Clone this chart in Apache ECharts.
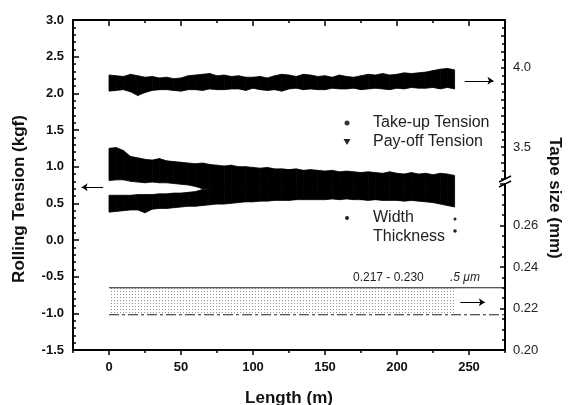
<!DOCTYPE html>
<html>
<head>
<meta charset="UTF-8">
<title>Rolling tension and tape size</title>
<script src="https://cdn.jsdelivr.net/npm/echarts@6/dist/echarts.min.js"></script>
<style>
  html, body { margin: 0; background: #fff; }
  #chart { width: 568px; height: 405px; }
</style>
</head>
<body>
<div id="chart"></div>
<script>
// length along the tape (m), one sample every 5 m
const lengthM = [0, 5, 10, 15, 20, 25, 30, 35, 40, 45, 50, 55, 60, 65, 70, 75, 80, 85, 90, 95,
  100, 105, 110, 115, 120, 125, 130, 135, 140, 145, 150, 155, 160, 165, 170, 175, 180, 185, 190, 195,
  200, 205, 210, 215, 220, 225, 230, 235, 240];

// take-up tension band (kgf), lower / upper edge
const takeUpLow = [2.03, 2.04, 2.05, 2.02, 1.97, 2.01, 2.04, 2.05, 2.05, 2.04,
  2.03, 2.05, 2.05, 2.04, 2.06, 2.05, 2.05, 2.06, 2.06, 2.04,
  2.07, 2.05, 2.04, 2.05, 2.03, 2.06, 2.07, 2.05, 2.06, 2.05,
  2.05, 2.07, 2.06, 2.06, 2.07, 2.05, 2.06, 2.07, 2.06, 2.05,
  2.07, 2.06, 2.08, 2.07, 2.07, 2.08, 2.06, 2.08, 2.06];
const takeUpHigh = [2.25, 2.24, 2.23, 2.26, 2.24, 2.22, 2.23, 2.21, 2.22, 2.20,
  2.21, 2.24, 2.25, 2.26, 2.27, 2.24, 2.25, 2.23, 2.24, 2.22,
  2.22, 2.23, 2.21, 2.24, 2.26, 2.25, 2.23, 2.26, 2.25, 2.23,
  2.24, 2.22, 2.25, 2.23, 2.22, 2.24, 2.26, 2.25, 2.27, 2.25,
  2.26, 2.28, 2.27, 2.28, 2.29, 2.31, 2.33, 2.34, 2.32];

// pay-off tension band (kgf): outer edges and the white gap seen near the start
const payOffLow = [0.38, 0.39, 0.40, 0.41, 0.41, 0.37, 0.42, 0.43, 0.43, 0.44,
  0.45, 0.46, 0.46, 0.47, 0.48, 0.49, 0.49, 0.50, 0.51, 0.52,
  0.52, 0.53, 0.53, 0.54, 0.54, 0.54, 0.55, 0.55, 0.55, 0.55,
  0.55, 0.56, 0.55, 0.56, 0.55, 0.55, 0.54, 0.55, 0.54, 0.54,
  0.54, 0.53, 0.54, 0.53, 0.52, 0.51, 0.49, 0.47, 0.45];
const payOffGapLow = [0.61, 0.61, 0.61, 0.61, 0.62, 0.62, 0.62, 0.63, 0.63, 0.64,
  0.64, 0.65, 0.66, 0.69, 0.70, 0.70, 0.70, 0.70, 0.70, 0.70,
  0.70, 0.70, 0.70, 0.70, 0.70, 0.70, 0.70, 0.70, 0.70, 0.70,
  0.70, 0.70, 0.70, 0.70, 0.70, 0.70, 0.70, 0.70, 0.70, 0.70,
  0.70, 0.70, 0.70, 0.70, 0.70, 0.70, 0.70, 0.70, 0.70];
const payOffGapHigh = [0.81, 0.82, 0.82, 0.80, 0.79, 0.78, 0.79, 0.78, 0.78, 0.77,
  0.76, 0.75, 0.73, 0.70, 0.70, 0.70, 0.70, 0.70, 0.70, 0.70,
  0.70, 0.70, 0.70, 0.70, 0.70, 0.70, 0.70, 0.70, 0.70, 0.70,
  0.70, 0.70, 0.70, 0.70, 0.70, 0.70, 0.70, 0.70, 0.70, 0.70,
  0.70, 0.70, 0.70, 0.70, 0.70, 0.70, 0.70, 0.70, 0.70];
const payOffHigh = [1.25, 1.26, 1.22, 1.14, 1.12, 1.10, 1.09, 1.11, 1.08, 1.07,
  1.06, 1.05, 1.04, 1.05, 1.03, 1.02, 1.01, 1.02, 1.00, 1.00,
  0.99, 0.98, 0.99, 0.97, 0.97, 0.96, 0.97, 0.95, 0.96, 0.95,
  0.94, 0.95, 0.93, 0.94, 0.93, 0.92, 0.93, 0.92, 0.91, 0.93,
  0.91, 0.90, 0.92, 0.90, 0.91, 0.89, 0.91, 0.90, 0.88];

// width / thickness band on the tape-size axis (mm)
const widthLength = [0, 240];
const widthLow = [0.217, 0.217];
const widthHigh = [0.230, 0.230];
const limitLength = [0, 275];

// arrows pointing to the axis each group belongs to
const arrowTension = [[-4, 0.72], [-19, 0.72]];
const arrowTakeUp  = [[247, 2.17], [267, 2.17]];
const arrowWidth   = [[244, -0.85], [261, -0.85]];

// tick labels
const xTicks = [0, 50, 100, 150, 200, 250];
const xMinorTicks = [-25, 25, 75, 125, 175, 225, 275];
const tensionTicks = [-1.5, -1.0, -0.5, 0.0, 0.5, 1.0, 1.5, 2.0, 2.5, 3.0];
const sizeUpperTicks = [3.5, 4.0];
const sizeLowerTicks = [0.20, 0.22, 0.24, 0.26];

const FONT = 'Liberation Sans, Arial, sans-serif';
const INK = '#111';

const chart = echarts.init(document.getElementById('chart'));

// stipple pattern for the width band
const dots = document.createElement('canvas');
dots.width = 3; dots.height = 3;
const dctx = dots.getContext('2d');
dctx.fillStyle = '#fff';
dctx.fillRect(0, 0, 3, 3);
dctx.fillStyle = '#909090';
dctx.fillRect(0, 0, 1, 1);

// band between a lower and an upper edge, one quad per segment
function bandSeries(xs, lows, highs, xi, yi, fill, stroke) {
  const data = [];
  for (let i = 0; i < xs.length - 1; i++) {
    data.push([xs[i], lows[i], highs[i], xs[i + 1], lows[i + 1], highs[i + 1]]);
  }
  return {
    type: 'custom', xAxisIndex: xi, yAxisIndex: yi, silent: true, clip: true,
    data: data,
    encode: { x: [0, 3], y: [1, 2, 4, 5] },
    renderItem: (params, api) => {
      const a = api.coord([api.value(0), api.value(1)]);
      const b = api.coord([api.value(3), api.value(4)]);
      const c = api.coord([api.value(3), api.value(5)]);
      const d = api.coord([api.value(0), api.value(2)]);
      return {
        type: 'polygon',
        shape: { points: [a, b, c, d] },
        style: stroke ? { fill: fill, stroke: stroke, lineWidth: 0.8 } : { fill: fill }
      };
    }
  };
}
function arrow(pts) {
  return [{ coord: pts[0] }, { coord: pts[1] }];
}

const series = [
  bandSeries(lengthM, takeUpLow, takeUpHigh, 0, 0, '#000', '#000'),
  bandSeries(lengthM, payOffLow, payOffGapLow, 0, 0, '#000', '#000'),
  bandSeries(lengthM, payOffGapHigh, payOffHigh, 0, 0, '#000', '#000'),
  bandSeries(widthLength, widthLow, widthHigh, 5, 2, { image: dots, repeat: 'repeat' }, null),
  {
    type: 'line', xAxisIndex: 5, yAxisIndex: 2, symbol: 'none', silent: true,
    data: limitLength.map(x => [x, widthHigh[0]]),
    lineStyle: { color: '#222', width: 1.2 }
  },
  {
    type: 'line', xAxisIndex: 5, yAxisIndex: 2, symbol: 'none', silent: true,
    data: limitLength.map(x => [x, widthLow[0]]),
    lineStyle: { color: '#222', width: 1.2, type: [10, 3, 3, 3] }
  },
  {
    type: 'line', xAxisIndex: 0, yAxisIndex: 0, symbol: 'none', silent: true, data: [],
    markLine: {
      silent: true, symbol: ['none', 'arrow'], symbolSize: 6,
      label: { show: false },
      lineStyle: { color: '#000', width: 1, type: 'solid' },
      data: [arrow(arrowTension), arrow(arrowTakeUp), arrow(arrowWidth)]
    }
  }
];

const axisLine = { show: true, onZero: false, lineStyle: { color: '#000', width: 2 } };
const noLine = { show: false, onZero: false };
const tickStyle = { color: '#000', width: 1.5 };
const hiddenX = (grid) => ({
  type: 'value', gridIndex: grid, min: -25, max: 275, show: false, axisLine: noLine
});

const option = {
  animation: false,
  backgroundColor: '#fff',
  textStyle: { fontFamily: FONT },
  grid: [
    { left: 73, top: 20, width: 432, height: 330, outerBoundsMode: 'none', containLabel: false },
    { left: 73, top: 20, width: 432, height: 159, outerBoundsMode: 'none', containLabel: false },
    { left: 73, top: 184, width: 432, height: 166, outerBoundsMode: 'none', containLabel: false }
  ],
  xAxis: [
    {
      type: 'value', gridIndex: 0, position: 'bottom', min: -25, max: 275,
      axisLine: axisLine, splitLine: { show: false },
      axisTick: { show: true, customValues: xTicks, length: 5, lineStyle: tickStyle },
      axisLabel: { customValues: xTicks, color: INK, fontWeight: 'bold', fontSize: 13, margin: 11 },
      name: 'Length (m)', nameLocation: 'middle', nameGap: 40,
      nameTextStyle: { color: INK, fontWeight: 'bold', fontSize: 17 }
    },
    {
      type: 'value', gridIndex: 0, position: 'bottom', min: -25, max: 275,
      axisLine: noLine, splitLine: { show: false }, axisLabel: { show: false },
      axisTick: { show: true, customValues: xMinorTicks, length: 3, lineStyle: tickStyle }
    },
    {
      type: 'value', gridIndex: 0, position: 'top', min: -25, max: 275,
      axisLine: axisLine, splitLine: { show: false }, axisLabel: { show: false },
      axisTick: { show: true, inside: true, customValues: xTicks, length: 6, lineStyle: tickStyle }
    },
    {
      type: 'value', gridIndex: 0, position: 'top', min: -25, max: 275,
      axisLine: noLine, splitLine: { show: false }, axisLabel: { show: false },
      axisTick: { show: true, inside: true, customValues: xMinorTicks, length: 3, lineStyle: tickStyle }
    },
    hiddenX(1),
    hiddenX(2)
  ],
  yAxis: [
    {
      type: 'value', gridIndex: 0, position: 'left', min: -1.5, max: 3.0, interval: 0.5,
      axisLine: axisLine, splitLine: { show: false },
      axisTick: { show: true, inside: true, length: 6, lineStyle: tickStyle },
      minorTick: { show: true, splitNumber: 5, length: 3, lineStyle: tickStyle },
      axisLabel: {
        customValues: tensionTicks, color: INK, fontWeight: 'bold', fontSize: 13, margin: 9,
        formatter: v => v.toFixed(1)
      }
    },
    {
      type: 'value', gridIndex: 1, position: 'right', min: 3.3, max: 4.3, interval: 0.1,
      axisLine: axisLine, splitLine: { show: false },
      axisTick: { show: true, inside: true, length: 4, lineStyle: tickStyle },
      minorTick: { show: true, splitNumber: 2, length: 3, lineStyle: tickStyle },
      axisLabel: {
        customValues: sizeUpperTicks, color: '#222', fontSize: 13, margin: 8,
        formatter: v => v.toFixed(1)
      }
    },
    {
      type: 'value', gridIndex: 2, position: 'right', min: 0.20, max: 0.28, interval: 0.02,
      axisLine: axisLine, splitLine: { show: false },
      axisTick: { show: true, inside: true, length: 5, lineStyle: tickStyle },
      minorTick: { show: true, splitNumber: 4, length: 3, lineStyle: tickStyle },
      axisLabel: {
        customValues: sizeLowerTicks, color: '#222', fontSize: 13, margin: 8,
        formatter: v => v.toFixed(2)
      }
    }
  ],
  series: series,
  graphic: [
    // axis titles
    {
      type: 'text', x: 19, y: 199, rotation: Math.PI / 2,
      style: { text: 'Rolling Tension (kgf)', font: 'bold 17px ' + FONT, fill: INK, align: 'center', verticalAlign: 'middle' }
    },
    {
      type: 'text', x: 555, y: 198, rotation: -Math.PI / 2,
      style: { text: 'Tape size (mm)', font: 'bold 17px ' + FONT, fill: INK, align: 'center', verticalAlign: 'middle' }
    },
    // axis break marks
    { type: 'rect', shape: { x: 503, y: 179, width: 4, height: 5 }, style: { fill: '#fff' } },
    { type: 'line', shape: { x1: 499, y1: 182, x2: 511, y2: 176 }, style: { stroke: '#000', lineWidth: 1.5 } },
    { type: 'line', shape: { x1: 499, y1: 187, x2: 511, y2: 181 }, style: { stroke: '#000', lineWidth: 1.5 } },
    // legend: tension
    { type: 'circle', shape: { cx: 347, cy: 123, r: 2.5 }, style: { fill: '#333' } },
    { type: 'text', x: 373, y: 123, style: { text: 'Take-up Tension', font: '16px ' + FONT, fill: '#222', verticalAlign: 'middle' } },
    { type: 'polygon', shape: { points: [[343.5, 139], [350.5, 139], [347, 145]] }, style: { fill: '#222' } },
    { type: 'text', x: 373, y: 142, style: { text: 'Pay-off Tension', font: '16px ' + FONT, fill: '#222', verticalAlign: 'middle' } },
    // legend: tape size
    { type: 'circle', shape: { cx: 347, cy: 218, r: 2 }, style: { fill: '#222' } },
    { type: 'text', x: 373, y: 218, style: { text: 'Width', font: '16px ' + FONT, fill: '#222', verticalAlign: 'middle' } },
    { type: 'text', x: 373, y: 237, style: { text: 'Thickness', font: '16px ' + FONT, fill: '#222', verticalAlign: 'middle' } },
    { type: 'circle', shape: { cx: 455, cy: 219, r: 1.5 }, style: { fill: '#222' } },
    { type: 'circle', shape: { cx: 455, cy: 231, r: 1.8 }, style: { fill: '#222' } },
    // band annotations
    { type: 'text', x: 353, y: 278, style: { text: '0.217 - 0.230', font: '12px ' + FONT, fill: '#222', verticalAlign: 'middle' } },
    { type: 'text', x: 450, y: 278, style: { text: '.5 μm', font: 'italic 12px ' + FONT, fill: '#222', verticalAlign: 'middle' } }
  ]
};

chart.setOption(option);
</script>
</body>
</html>
